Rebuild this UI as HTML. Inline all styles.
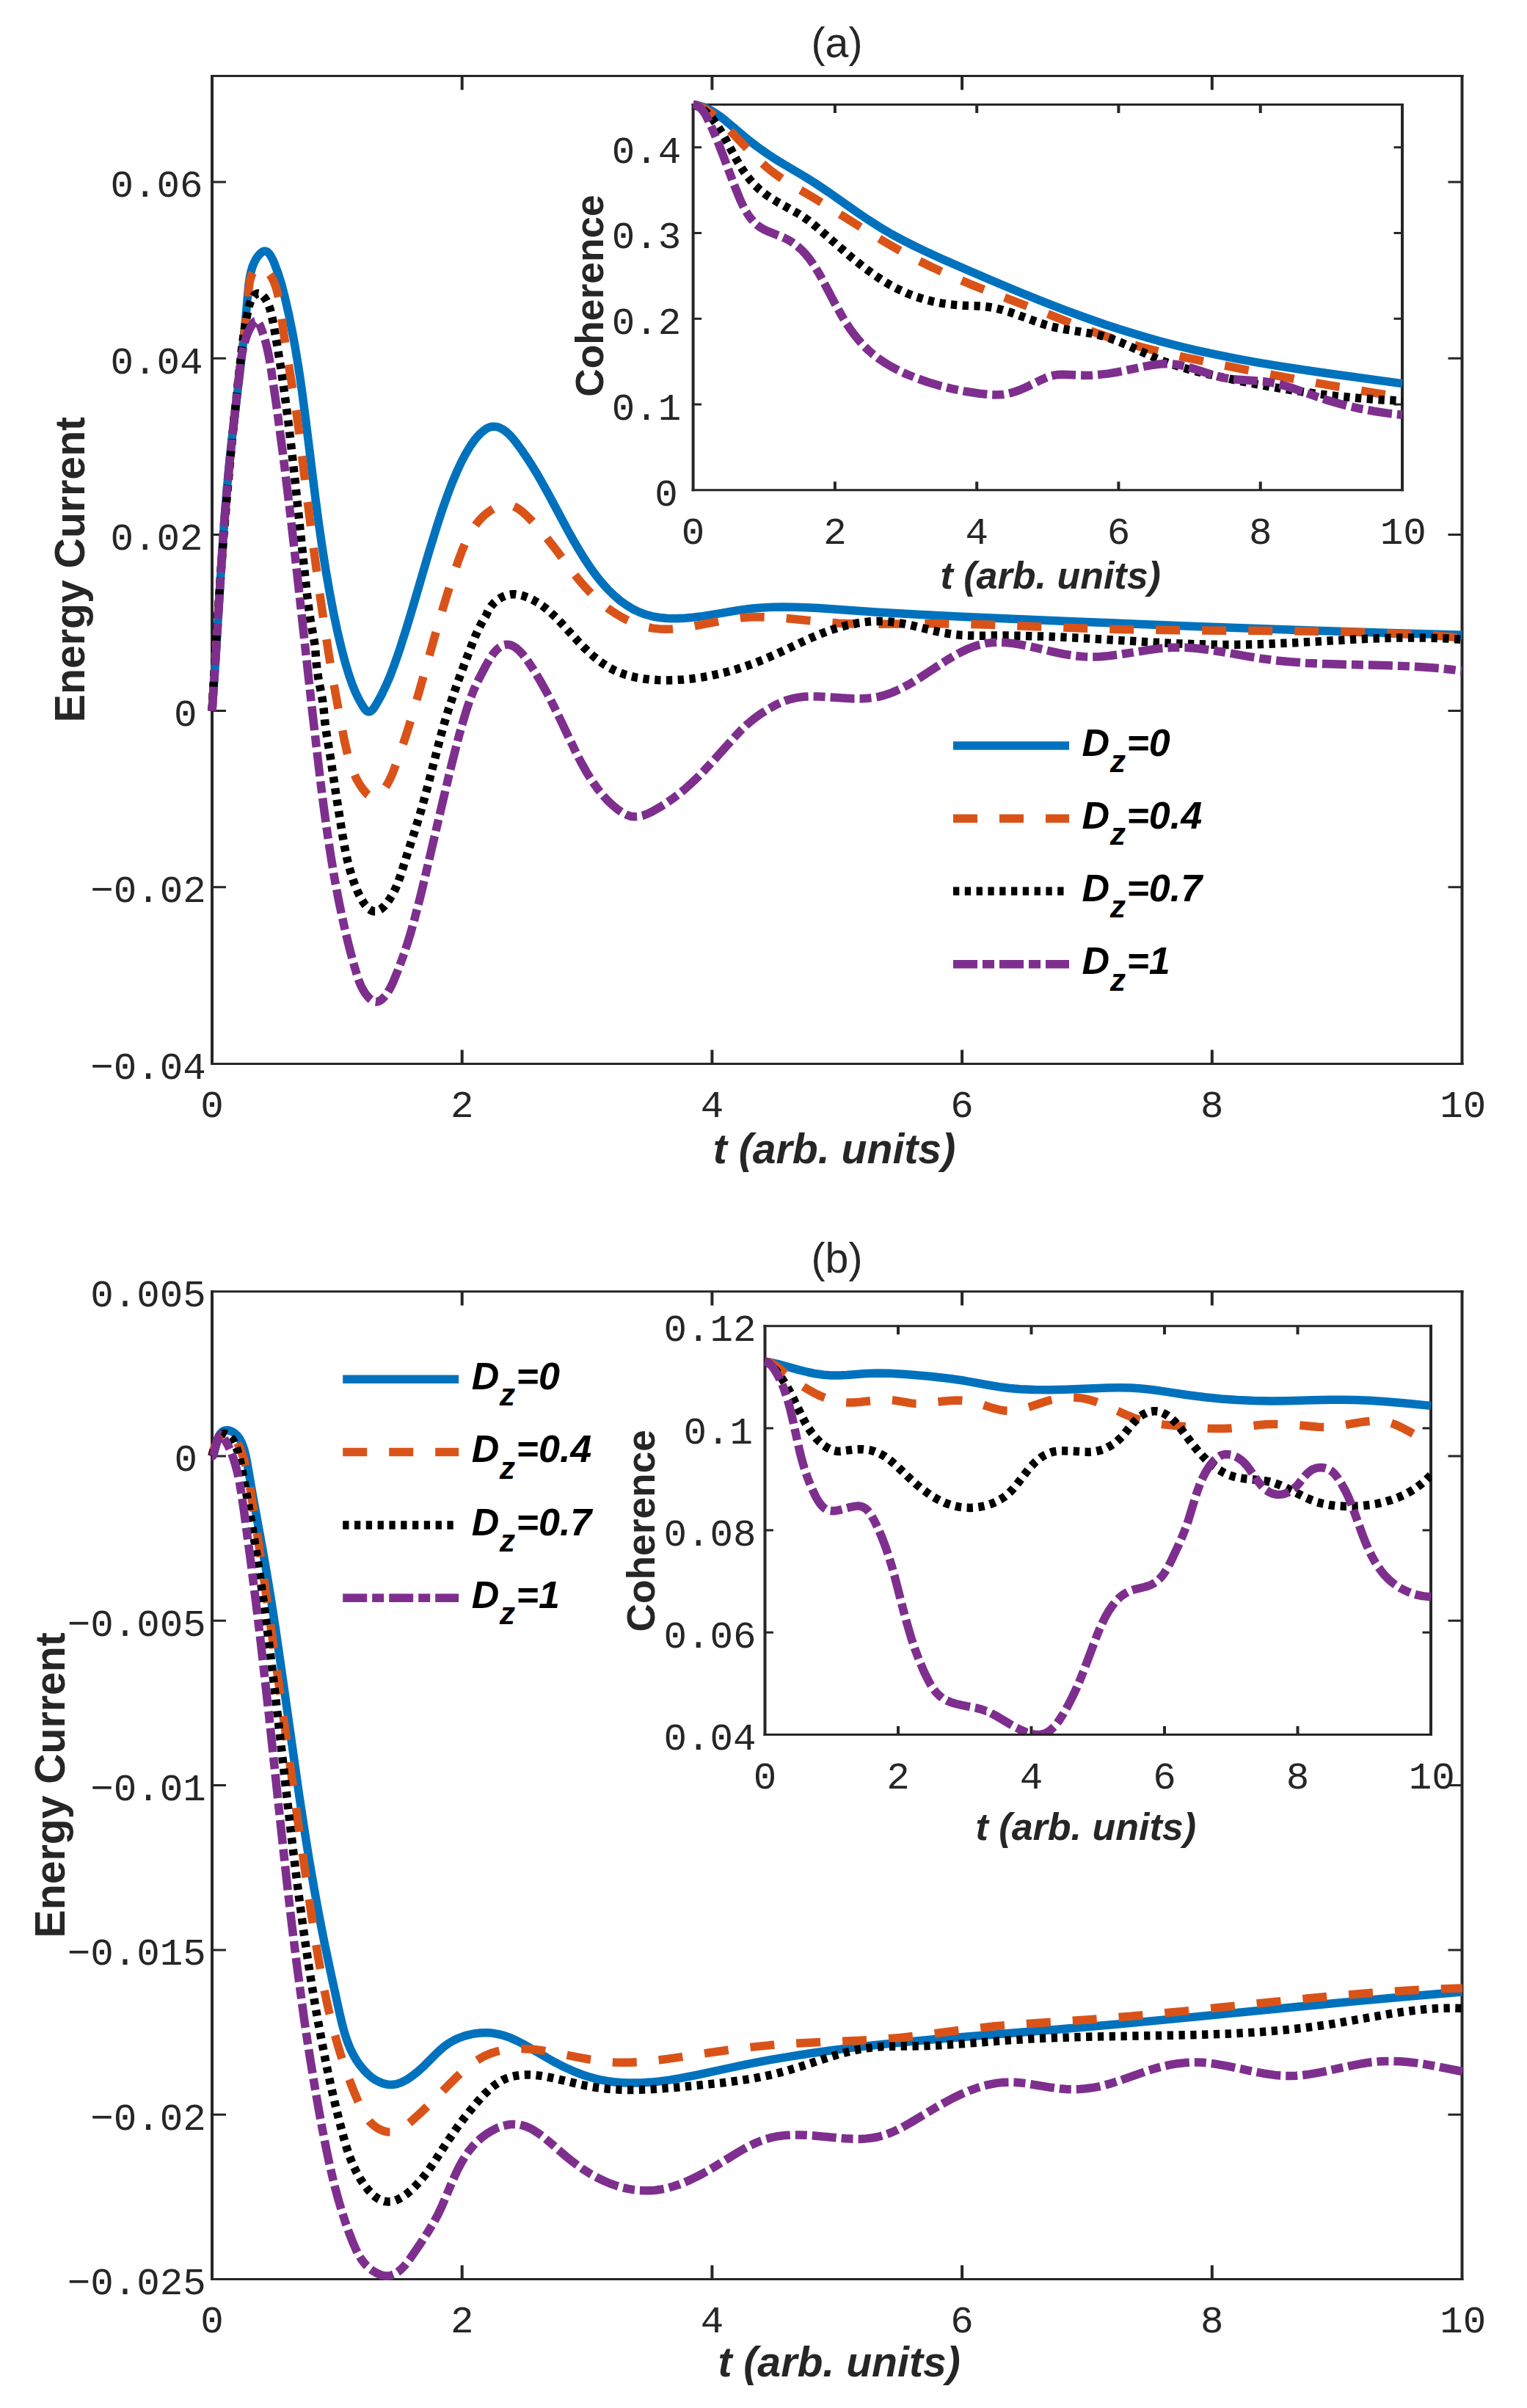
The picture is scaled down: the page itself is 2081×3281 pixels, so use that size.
<!DOCTYPE html>
<html><head><meta charset="utf-8"><title>figure</title>
<style>html,body{margin:0;padding:0;background:#fff}svg{display:block}</style>
</head><body>
<svg width="2081" height="3281" viewBox="0 0 2081 3281">
<rect width="2081" height="3281" fill="#fff"/>
<clipPath id="ca"><rect x="283" y="97.5" width="1711.0" height="1358.0"/></clipPath>
<path d="M289,102.0V1451.0M1992.5,102.0V1451.0M629.7,1449.5v-19M629.7,103.5v19M970.4,1449.5v-19M970.4,103.5v19M1311.1,1449.5v-19M1311.1,103.5v19M1651.8,1449.5v-19M1651.8,103.5v19" fill="none" stroke="#262626" stroke-width="4"/>
<path d="M287,103.5H1994.5M287,1449.5H1994.5M289,1208.8h19M1992.5,1208.8h-19M289,968.6h19M1992.5,968.6h-19M289,728.4h19M1992.5,728.4h-19M289,488.2h19M1992.5,488.2h-19M289,248.0h19M1992.5,248.0h-19" fill="none" stroke="#262626" stroke-width="3"/>
<g clip-path="url(#ca)" fill="none" stroke-width="11.5" stroke-linejoin="round">
<path d="M289.0,968.6 L293.3,906.1 L302.8,751.7 L305.9,708.4 L309.0,669.5 L312.2,634.5 L315.7,601.0 L327.4,502.8 L331.6,465.3 L334.8,434.0 L338.8,389.0 L340.2,379.1 L341.8,371.1 L343.8,364.0 L346.5,357.4 L348.2,354.1 L349.8,351.4 L351.7,348.8 L353.7,346.5 L355.6,344.7 L357.5,343.2 L359.1,342.4 L360.7,342.1 L362.8,342.4 L364.9,343.6 L367.1,345.9 L369.2,349.0 L371.4,353.1 L373.5,357.7 L378.9,372.2 L383.6,387.3 L388.0,404.2 L393.4,427.6 L398.5,452.8 L401.9,471.3 L405.1,490.4 L408.4,511.1 L411.5,532.9 L416.8,573.2 L430.1,680.7 L434.6,714.4 L439.1,745.5 L444.0,777.1 L449.2,807.1 L454.6,835.5 L459.9,860.4 L464.8,881.3 L470.0,901.1 L475.3,918.8 L480.1,932.7 L482.8,939.4 L485.8,946.2 L488.9,952.5 L492.1,958.3 L495.0,963.1 L497.4,966.5 L499.6,968.6 L501.3,969.6 L502.8,969.8 L504.2,969.5 L505.6,968.8 L507.0,967.7 L508.6,965.9 L510.2,963.8 L514.3,957.1 L520.2,946.2 L525.8,934.5 L531.4,921.6 L536.8,907.5 L544.8,884.6 L554.6,853.8 L563.4,824.5 L584.6,752.1 L596.5,713.6 L603.2,693.3 L610.0,674.1 L616.0,658.2 L621.8,644.4 L628.4,630.2 L635.0,617.6 L641.0,607.6 L646.9,599.3 L650.1,595.5 L653.5,591.8 L657.1,588.4 L660.2,585.9 L663.0,584.0 L665.9,582.6 L668.5,581.7 L671.2,581.2 L673.6,581.2 L675.9,581.4 L678.2,581.9 L680.9,582.8 L685.5,585.1 L690.2,588.5 L694.6,592.6 L699.5,598.0 L705.3,605.5 L712.3,615.2 L718.6,624.5 L724.7,633.9 L730.7,643.7 L736.9,654.4 L747.9,674.1 L774.3,723.5 L782.1,737.4 L789.3,749.6 L797.1,762.3 L804.9,773.9 L812.5,784.3 L819.9,793.5 L828.4,803.0 L836.6,811.0 L844.8,818.1 L853.5,824.4 L862.1,829.7 L870.8,833.9 L879.8,837.3 L889.2,839.8 L898.9,841.5 L909.4,842.4 L920.5,842.7 L932.8,842.2 L944.5,841.2 L957.1,839.6 L970.0,837.6 L1005.5,831.7 L1016.3,830.1 L1026.2,829.0 L1039.0,827.9 L1052.9,827.2 L1067.3,827.0 L1082.8,827.2 L1098.2,827.7 L1115.2,828.6 L1193.3,834.0 L1255.7,837.6 L1321.6,840.7 L1466.9,846.9 L1622.8,853.2 L1756.2,858.1 L1878.7,862.1 L1992.5,865.2" stroke="#0072BD"/>
<path d="M289.0,968.6 L297.9,825.7 L304.4,733.4 L307.8,689.8 L311.3,648.9 L315.0,610.1 L318.8,573.1 L323.8,528.4 L333.7,448.6 L336.4,423.2 L338.9,394.9 L340.0,385.9 L341.0,381.0 L342.2,377.0 L343.5,373.7 L345.1,370.8 L347.0,368.3 L349.3,366.2 L351.6,364.9 L354.0,364.3 L355.8,364.4 L357.8,365.1 L359.9,366.3 L362.1,368.0 L364.2,369.9 L366.4,372.4 L368.4,375.1 L370.3,378.0 L373.5,384.6 L376.1,391.8 L378.6,400.7 L380.6,410.7 L382.5,422.7 L386.3,451.2 L389.3,472.0 L400.9,542.5 L405.1,570.5 L408.1,593.4 L417.6,670.9 L425.6,733.5 L433.8,795.1 L441.2,846.8 L448.1,891.6 L455.1,933.1 L462.4,973.2 L469.7,1010.6 L473.1,1025.4 L476.4,1037.5 L480.2,1048.3 L484.4,1058.3 L487.1,1063.5 L489.8,1068.2 L492.8,1072.7 L495.8,1076.7 L498.9,1080.5 L501.3,1082.9 L503.4,1084.4 L505.7,1085.5 L507.6,1085.7 L509.6,1085.5 L511.6,1084.9 L514.0,1083.7 L516.6,1082.0 L519.0,1079.9 L521.3,1077.6 L523.5,1075.1 L527.3,1069.4 L531.0,1062.6 L534.7,1054.4 L539.1,1042.8 L544.7,1027.4 L550.2,1011.4 L555.6,994.7 L561.0,977.2 L570.9,943.3 L595.9,855.0 L603.0,830.8 L609.6,809.1 L617.1,785.9 L624.5,764.2 L629.5,750.7 L634.2,739.6 L639.3,729.3 L644.9,719.9 L650.6,712.0 L653.8,708.3 L657.2,704.8 L660.8,701.4 L664.6,698.3 L668.7,695.3 L672.6,692.9 L676.1,691.0 L679.8,689.4 L683.5,688.2 L686.7,687.6 L690.4,687.3 L694.4,687.8 L698.4,689.0 L702.7,691.0 L706.9,693.5 L711.3,696.9 L716.1,701.1 L722.2,707.0 L733.2,718.8 L744.8,732.5 L755.5,746.1 L780.0,778.8 L786.7,787.3 L793.0,794.9 L800.2,802.9 L807.3,810.4 L814.4,817.2 L821.6,823.4 L829.9,829.9 L838.3,835.6 L847.1,840.9 L855.7,845.3 L864.5,849.2 L873.0,852.2 L881.7,854.5 L890.4,856.1 L898.6,856.9 L906.9,857.2 L915.7,857.0 L925.1,856.2 L934.5,855.0 L944.4,853.4 L983.8,845.7 L1000.7,842.9 L1009.7,841.8 L1018.7,841.1 L1028.1,840.7 L1038.1,840.7 L1050.0,841.0 L1063.5,841.8 L1079.4,843.2 L1128.1,848.1 L1144.1,849.2 L1161.5,849.9 L1191.0,850.3 L1260.6,849.7 L1299.6,850.0 L1350.5,851.3 L1474.4,856.1 L1533.3,857.7 L1603.8,858.7 L1760.7,859.7 L1828.2,860.8 L1873.2,862.1 L1915.2,863.9 L1954.6,866.1 L1992.5,869.0" stroke="#D95319" stroke-dasharray="33 30"/>
<path d="M289.0,968.6 L292.5,906.8 L296.3,846.4 L300.4,788.0 L304.7,731.1 L309.3,675.7 L314.2,621.5 L319.4,568.3 L325.0,516.3 L329.4,477.3 L332.0,457.3 L334.9,438.7 L338.2,421.7 L339.5,416.4 L340.8,412.4 L342.3,408.8 L344.0,405.8 L345.8,403.2 L347.8,401.4 L350.0,400.2 L351.9,399.8 L353.8,400.1 L356.1,401.1 L358.2,402.9 L360.6,405.6 L362.7,408.8 L364.7,412.4 L366.5,416.7 L368.1,421.2 L370.2,429.4 L372.5,440.4 L377.2,467.3 L381.8,495.5 L385.6,520.6 L389.2,546.6 L392.8,574.0 L396.3,602.8 L402.3,656.8 L415.3,781.3 L418.9,813.5 L421.4,833.8 L423.6,848.1 L427.4,868.5 L428.7,876.4 L429.7,884.8 L431.2,904.2 L432.4,914.6 L434.2,926.6 L438.4,947.4 L439.9,956.4 L441.0,964.8 L443.0,985.6 L444.8,998.5 L450.6,1033.5 L457.3,1078.2 L466.7,1137.5 L469.5,1153.4 L473.1,1170.6 L477.1,1186.1 L481.9,1201.0 L484.7,1208.3 L487.3,1214.6 L489.9,1220.1 L492.7,1225.3 L495.3,1229.7 L497.8,1233.2 L500.3,1236.2 L503.0,1238.6 L505.7,1240.4 L508.2,1241.4 L510.1,1241.7 L512.1,1241.7 L514.0,1241.3 L516.3,1240.3 L518.7,1238.9 L521.0,1237.1 L523.3,1235.0 L525.5,1232.5 L528.1,1229.3 L530.5,1225.9 L535.1,1218.4 L539.3,1210.1 L543.1,1200.9 L546.2,1191.7 L553.4,1168.7 L566.0,1129.9 L574.0,1103.8 L582.0,1074.9 L600.1,1004.9 L605.3,986.1 L610.4,969.4 L618.8,943.9 L627.3,919.9 L640.6,884.6 L647.7,866.9 L651.7,858.1 L655.5,850.4 L658.8,844.3 L662.8,838.0 L664.2,834.4 L665.9,830.9 L667.5,828.3 L669.4,825.7 L671.8,822.9 L674.2,820.6 L677.1,818.1 L679.9,816.1 L682.7,814.4 L685.7,812.9 L688.9,811.6 L692.1,810.7 L697.2,809.8 L702.0,809.7 L707.4,810.4 L713.3,811.9 L719.6,814.2 L726.1,817.3 L732.7,821.0 L738.9,825.2 L743.6,828.8 L748.2,832.5 L757.5,841.2 L765.7,849.8 L789.2,875.3 L796.7,883.0 L803.4,889.3 L810.6,895.7 L817.3,901.0 L824.2,905.9 L830.9,910.0 L837.5,913.4 L844.6,916.5 L852.0,919.2 L860.0,921.5 L868.2,923.4 L876.9,924.8 L886.4,925.9 L895.8,926.6 L907.4,926.9 L919.4,926.6 L931.4,925.9 L943.4,924.7 L955.3,923.1 L967.6,920.9 L979.8,918.2 L992.5,915.0 L1004.1,911.7 L1016.0,907.9 L1027.8,903.7 L1039.5,899.1 L1058.8,890.8 L1092.7,874.9 L1105.8,869.0 L1119.1,863.4 L1131.7,858.7 L1139.3,856.2 L1147.0,853.9 L1154.2,852.0 L1161.6,850.4 L1168.9,849.0 L1175.8,848.0 L1183.2,847.1 L1190.2,846.6 L1198.6,846.4 L1207.1,846.6 L1215.0,847.3 L1223.4,848.4 L1231.3,849.8 L1240.2,851.6 L1271.1,859.1 L1284.0,861.9 L1296.8,864.0 L1310.2,865.4 L1320.1,865.9 L1331.1,866.2 L1368.1,866.0 L1389.5,866.2 L1428.5,867.3 L1474.5,869.5 L1579.4,875.6 L1605.4,876.9 L1628.8,877.7 L1651.8,878.3 L1673.3,878.5 L1693.8,878.3 L1715.7,877.8 L1757.2,876.1 L1855.5,870.7 L1881.0,869.7 L1904.4,869.1 L1928.4,868.9 L1950.9,869.2 L1972.3,870.1 L1992.5,871.4" stroke="#000000" stroke-dasharray="8.3 7.5"/>
<path d="M289.0,968.6 L293.3,905.6 L302.2,760.1 L304.6,724.6 L307.1,692.8 L310.1,658.1 L313.5,623.3 L326.3,508.0 L328.2,493.0 L330.0,481.2 L332.2,470.9 L334.8,461.8 L336.5,456.8 L338.3,452.4 L340.3,448.2 L342.3,444.5 L344.2,441.4 L346.0,439.1 L347.5,437.7 L349.0,437.3 L350.4,437.8 L351.8,439.2 L353.3,441.6 L355.0,445.1 L357.4,451.5 L359.7,458.4 L361.8,465.3 L363.7,472.8 L366.3,484.7 L368.8,498.6 L376.6,551.3 L386.3,623.9 L396.1,704.3 L404.9,781.8 L425.4,967.5 L436.4,1061.9 L441.2,1099.6 L445.8,1132.9 L450.3,1163.0 L455.0,1191.7 L458.5,1210.8 L462.1,1229.5 L465.9,1247.5 L469.8,1265.1 L473.8,1282.1 L478.1,1299.0 L482.7,1315.8 L487.0,1330.2 L489.3,1336.8 L491.8,1342.9 L494.4,1348.0 L497.4,1353.0 L500.7,1357.3 L503.9,1360.7 L507.2,1363.4 L510.3,1364.8 L512.6,1365.1 L514.9,1364.8 L517.1,1363.9 L519.7,1362.2 L522.4,1359.7 L525.3,1356.4 L528.2,1352.4 L530.7,1348.2 L533.1,1343.7 L535.7,1338.2 L542.5,1321.6 L549.2,1303.5 L555.6,1284.4 L559.8,1270.5 L563.9,1256.1 L572.5,1223.3 L578.5,1198.2 L605.7,1082.3 L614.5,1045.7 L620.7,1021.0 L626.0,1000.7 L631.4,982.0 L636.6,964.9 L641.3,951.2 L645.7,940.0 L650.8,928.8 L662.1,907.0 L667.9,896.9 L672.6,890.1 L675.0,887.4 L677.4,884.8 L680.0,882.6 L682.3,881.0 L684.6,879.7 L686.8,878.8 L688.7,878.4 L691.0,878.2 L692.9,878.3 L695.1,878.7 L697.4,879.5 L699.6,880.5 L703.9,883.3 L708.4,887.4 L713.2,892.7 L718.1,899.1 L723.7,907.3 L730.2,917.5 L736.7,928.5 L743.0,939.7 L749.2,951.2 L759.7,972.2 L782.8,1020.7 L788.3,1031.9 L793.5,1041.7 L798.7,1050.9 L804.0,1059.6 L809.3,1067.7 L814.7,1075.2 L821.1,1083.1 L828.0,1090.7 L835.1,1097.4 L842.3,1103.3 L848.6,1107.6 L854.3,1110.4 L859.7,1112.2 L862.4,1112.6 L865.2,1112.8 L870.4,1112.5 L875.6,1111.3 L881.8,1109.1 L888.4,1106.0 L897.6,1100.8 L907.1,1094.9 L916.2,1088.6 L925.2,1081.8 L932.7,1075.7 L940.2,1069.0 L948.0,1061.8 L955.8,1054.0 L971.2,1037.6 L1002.2,1003.0 L1009.8,995.0 L1016.9,988.2 L1026.1,980.3 L1035.6,973.3 L1047.2,966.0 L1058.3,959.9 L1067.3,955.9 L1071.8,954.2 L1076.5,952.8 L1081.2,951.6 L1085.9,950.6 L1095.6,949.3 L1104.5,948.9 L1115.0,949.0 L1125.1,949.5 L1155.1,951.6 L1164.2,951.9 L1172.2,951.9 L1181.2,951.5 L1189.5,950.7 L1197.2,949.3 L1204.8,947.4 L1212.8,944.8 L1220.5,941.6 L1229.1,937.6 L1238.0,932.9 L1245.5,928.5 L1254.2,923.1 L1281.3,905.3 L1291.1,899.0 L1300.6,893.4 L1309.3,888.7 L1318.5,884.3 L1326.9,881.0 L1335.0,878.5 L1343.2,876.6 L1351.5,875.6 L1360.4,875.2 L1370.0,875.5 L1380.6,876.6 L1389.9,878.1 L1400.3,880.1 L1436.3,888.4 L1450.5,891.4 L1464.6,893.6 L1477.1,894.8 L1484.1,895.1 L1491.6,895.0 L1499.0,894.7 L1506.9,894.1 L1525.2,891.9 L1563.5,885.9 L1580.1,883.6 L1589.5,882.8 L1597.8,882.3 L1606.2,882.2 L1614.6,882.3 L1629.4,883.3 L1645.8,885.2 L1664.2,888.0 L1702.1,894.6 L1718.6,897.2 L1738.0,899.8 L1758.4,901.8 L1780.9,903.4 L1805.8,904.6 L1830.2,905.3 L1892.5,906.7 L1926.4,908.1 L1944.4,909.2 L1961.4,910.6 L1977.4,912.3 L1992.5,914.3" stroke="#7E2F8E" stroke-dasharray="33 7 16 7"/>
</g>
<clipPath id="cia"><rect x="938.6" y="136.4" width="973.9" height="537.4"/></clipPath>
<path d="M944.6,140.9V669.3M1911,140.9V669.3M1137.9,667.8v-11.5M1137.9,142.4v11.5M1331.2,667.8v-11.5M1331.2,142.4v11.5M1524.4,667.8v-11.5M1524.4,142.4v11.5M1717.7,667.8v-11.5M1717.7,142.4v11.5" fill="none" stroke="#262626" stroke-width="4"/>
<path d="M942.6,142.4H1913M942.6,667.8H1913M944.6,551.0h11.5M1911,551.0h-11.5M944.6,434.3h11.5M1911,434.3h-11.5M944.6,317.5h11.5M1911,317.5h-11.5M944.6,200.8h11.5M1911,200.8h-11.5" fill="none" stroke="#262626" stroke-width="3"/>
<g clip-path="url(#cia)" fill="none" stroke-width="11.5" stroke-linejoin="round">
<path d="M944.6,142.4 L948.6,143.0 L952.5,143.9 L960.0,146.3 L967.5,149.7 L975.4,154.4 L981.4,158.6 L988.1,163.8 L1009.5,182.0 L1021.5,191.9 L1032.7,200.4 L1044.1,208.5 L1052.8,214.3 L1062.0,220.1 L1096.2,240.4 L1110.6,249.4 L1129.3,261.9 L1166.7,288.2 L1182.4,298.9 L1199.3,309.7 L1215.2,319.1 L1229.6,326.9 L1245.6,335.0 L1263.2,343.4 L1284.1,352.9 L1324.9,370.8 L1361.2,386.3 L1393.6,399.8 L1423.7,411.9 L1452.2,422.8 L1479.8,433.0 L1506.2,442.2 L1531.9,450.5 L1556.7,458.1 L1581.1,465.0 L1605.3,471.3 L1630.6,477.3 L1656.4,482.9 L1683.4,488.3 L1712.0,493.6 L1742.1,498.6 L1772.3,503.3 L1806.0,508.3 L1911.0,522.6" stroke="#0072BD"/>
<path d="M944.6,142.4 L948.5,143.4 L952.3,144.6 L955.9,146.0 L959.4,147.7 L963.2,149.8 L966.9,152.2 L974.3,157.8 L980.2,163.0 L987.3,169.9 L1020.2,204.5 L1028.0,212.4 L1035.2,219.3 L1043.3,226.6 L1051.0,232.9 L1059.4,239.1 L1068.5,245.2 L1080.7,252.9 L1106.2,267.9 L1122.0,277.6 L1192.0,321.3 L1209.6,331.9 L1225.6,341.1 L1247.1,352.7 L1269.5,363.8 L1294.0,375.1 L1320.2,386.3 L1355.0,400.1 L1428.4,427.9 L1474.8,446.4 L1493.4,453.5 L1508.5,458.8 L1524.6,464.1 L1541.4,469.0 L1558.7,473.8 L1586.4,480.6 L1618.2,487.7 L1664.8,497.3 L1716.8,507.5 L1765.9,516.7 L1814.6,525.4 L1862.9,533.6 L1911.0,541.3" stroke="#D95319" stroke-dasharray="33 30"/>
<path d="M944.6,142.4 L948.2,143.8 L952.1,145.7 L955.4,147.6 L958.9,150.1 L962.3,152.8 L965.8,156.2 L969.1,159.7 L972.2,163.6 L977.8,171.3 L983.6,180.7 L989.1,190.4 L1003.5,217.1 L1008.0,224.9 L1012.3,231.7 L1017.8,239.4 L1023.4,246.3 L1029.4,252.9 L1035.5,258.7 L1042.9,264.6 L1051.1,270.2 L1060.1,275.6 L1086.9,290.5 L1094.9,295.6 L1101.7,300.4 L1107.9,305.2 L1114.7,310.9 L1147.1,339.2 L1162.4,352.3 L1177.0,364.0 L1190.3,373.8 L1202.0,381.6 L1213.5,388.5 L1224.9,394.5 L1236.2,399.7 L1247.3,403.9 L1258.7,407.6 L1270.8,410.7 L1283.1,413.1 L1294.0,414.7 L1305.0,415.7 L1314.0,416.3 L1332.4,416.9 L1340.4,417.4 L1348.7,418.5 L1356.9,420.0 L1366.0,422.3 L1376.0,425.3 L1386.8,429.0 L1415.9,439.6 L1425.5,442.7 L1433.6,445.0 L1441.4,446.8 L1450.2,448.5 L1487.3,454.4 L1495.0,456.0 L1501.8,457.6 L1513.6,461.3 L1526.2,466.0 L1539.0,471.5 L1574.1,487.6 L1584.8,492.0 L1595.1,495.7 L1608.9,500.1 L1624.3,504.4 L1641.8,508.7 L1665.8,514.1 L1697.6,520.7 L1729.0,526.5 L1760.1,531.6 L1790.7,536.0 L1821.0,539.6 L1851.3,542.5 L1881.2,544.7 L1911.0,546.2" stroke="#000000" stroke-dasharray="8.3 7.5"/>
<path d="M944.6,142.4 L947.4,143.0 L949.9,144.0 L952.6,145.7 L955.0,147.7 L957.2,150.1 L959.6,153.2 L961.7,156.6 L963.8,160.7 L971.0,176.1 L978.2,193.3 L984.7,209.8 L1000.0,250.6 L1008.6,271.9 L1012.3,279.8 L1015.8,286.6 L1019.5,292.6 L1023.3,297.8 L1026.5,301.5 L1029.9,304.9 L1033.3,307.7 L1037.0,310.2 L1041.3,312.7 L1045.9,314.9 L1066.0,323.0 L1070.6,325.0 L1074.6,327.1 L1079.6,330.2 L1084.3,333.5 L1088.8,337.2 L1093.3,341.4 L1097.9,346.3 L1102.5,351.9 L1106.8,357.8 L1111.1,364.4 L1115.3,371.2 L1119.5,378.6 L1138.0,413.9 L1148.0,431.6 L1153.5,440.7 L1158.8,448.6 L1164.4,456.2 L1170.0,463.1 L1176.5,470.5 L1183.2,477.0 L1190.2,483.1 L1197.7,488.8 L1206.3,494.6 L1215.3,499.9 L1225.1,505.0 L1235.1,509.7 L1249.6,515.5 L1264.8,520.8 L1280.6,525.5 L1297.1,529.6 L1315.7,533.3 L1335.0,536.2 L1348.8,537.7 L1354.8,537.9 L1360.7,537.8 L1367.0,537.4 L1372.9,536.5 L1378.6,535.1 L1384.8,533.2 L1391.0,530.8 L1397.6,528.0 L1417.9,518.1 L1424.3,515.2 L1431.3,512.6 L1437.5,511.1 L1442.4,510.5 L1447.9,510.3 L1453.9,510.4 L1469.5,511.2 L1477.5,511.4 L1488.0,511.2 L1498.3,510.4 L1510.1,509.1 L1522.8,507.0 L1534.0,504.8 L1559.0,499.4 L1571.8,497.2 L1578.7,496.3 L1585.5,495.8 L1591.9,495.7 L1597.7,496.0 L1602.1,496.5 L1607.0,497.2 L1616.7,499.4 L1626.8,502.4 L1653.0,511.0 L1660.9,513.2 L1668.3,514.8 L1676.2,516.1 L1684.6,517.0 L1712.5,518.9 L1721.9,519.7 L1730.7,520.9 L1739.0,522.5 L1749.1,525.1 L1760.1,528.4 L1794.8,540.6 L1808.1,545.0 L1821.5,549.0 L1835.0,552.6 L1853.5,556.8 L1872.1,560.2 L1891.4,563.1 L1911.0,565.2" stroke="#7E2F8E" stroke-dasharray="33 7 16 7"/>
</g>
<clipPath id="cb"><rect x="283" y="1753.7" width="1711.0" height="1357.7"/></clipPath>
<path d="M289,1758.2V3106.9M1992.5,1758.2V3106.9M629.7,3105.4v-19M629.7,1759.7v19M970.4,3105.4v-19M970.4,1759.7v19M1311.1,3105.4v-19M1311.1,1759.7v19M1651.8,3105.4v-19M1651.8,1759.7v19" fill="none" stroke="#262626" stroke-width="4"/>
<path d="M287,1759.7H1994.5M287,3105.4H1994.5M289,1984.0h19M1992.5,1984.0h-19M289,2208.3h19M1992.5,2208.3h-19M289,2432.6h19M1992.5,2432.6h-19M289,2656.9h19M1992.5,2656.9h-19M289,2881.2h19M1992.5,2881.2h-19" fill="none" stroke="#262626" stroke-width="3"/>
<g clip-path="url(#cb)" fill="none" stroke-width="11.5" stroke-linejoin="round">
<path d="M289.0,1984.0 L290.4,1981.9 L291.6,1978.9 L296.2,1962.7 L297.6,1958.7 L299.0,1955.7 L300.5,1953.2 L302.7,1951.0 L305.0,1949.6 L307.5,1948.9 L309.4,1948.8 L311.3,1949.0 L313.2,1949.4 L315.4,1950.2 L317.6,1951.3 L319.6,1952.7 L323.2,1956.0 L326.3,1960.0 L328.9,1964.7 L331.2,1970.3 L333.4,1977.4 L335.0,1984.0 L336.5,1991.4 L344.2,2036.1 L358.3,2113.6 L363.9,2146.1 L369.6,2180.8 L375.4,2218.6 L381.5,2260.5 L407.7,2446.1 L414.7,2492.2 L421.3,2533.8 L428.1,2573.2 L434.8,2609.9 L441.8,2645.5 L450.4,2686.4 L462.6,2742.3 L466.7,2759.6 L469.2,2768.8 L471.8,2777.0 L474.5,2784.5 L477.4,2791.5 L481.4,2799.6 L485.7,2807.0 L490.3,2813.7 L495.4,2820.0 L500.7,2825.5 L506.3,2830.4 L511.9,2834.2 L517.8,2837.2 L521.6,2838.7 L525.6,2839.7 L529.6,2840.3 L533.6,2840.4 L537.8,2840.1 L541.4,2839.3 L545.6,2837.9 L549.8,2836.0 L554.4,2833.6 L558.9,2830.7 L563.8,2827.1 L568.6,2823.3 L577.9,2814.9 L593.2,2799.5 L599.1,2793.8 L605.6,2788.2 L612.3,2783.6 L616.9,2780.9 L621.8,2778.4 L626.8,2776.3 L632.1,2774.4 L637.4,2772.9 L642.9,2771.6 L648.4,2770.7 L654.0,2770.0 L659.5,2769.7 L664.5,2769.8 L670.0,2770.1 L674.8,2770.8 L680.0,2771.8 L685.2,2773.1 L690.2,2774.7 L695.7,2776.7 L704.1,2780.5 L712.9,2785.0 L721.6,2789.9 L747.2,2804.9 L756.7,2810.2 L765.4,2814.7 L774.7,2819.1 L784.1,2823.2 L793.1,2826.7 L801.7,2829.5 L809.8,2831.8 L818.4,2833.8 L827.1,2835.4 L836.2,2836.7 L845.4,2837.5 L854.6,2838.0 L864.3,2838.1 L874.0,2837.9 L886.2,2837.1 L899.0,2835.9 L912.2,2834.1 L926.9,2831.7 L951.6,2826.9 L999.5,2816.5 L1021.8,2811.9 L1049.5,2806.7 L1078.2,2801.8 L1104.5,2797.7 L1131.3,2794.0 L1159.0,2790.4 L1188.3,2787.0 L1231.0,2782.6 L1278.7,2778.2 L1324.4,2774.4 L1440.4,2765.3 L1517.6,2758.6 L1604.3,2750.4 L1776.7,2733.5 L1848.9,2726.6 L1924.6,2719.7 L1992.5,2714.1" stroke="#0072BD"/>
<path d="M289.0,1984.0 L290.4,1977.3 L292.7,1970.3 L295.5,1964.0 L298.7,1958.5 L302.0,1954.5 L303.5,1953.2 L305.0,1952.1 L306.9,1951.3 L308.4,1950.9 L309.9,1950.9 L311.4,1951.2 L312.9,1951.9 L314.3,1952.8 L317.4,1955.7 L320.5,1960.1 L323.4,1965.3 L326.5,1972.1 L329.8,1980.6 L332.6,1989.0 L335.2,1998.5 L338.3,2012.3 L341.2,2029.1 L349.8,2084.9 L358.9,2146.2 L373.8,2250.1 L407.4,2491.8 L424.2,2607.1 L429.0,2638.8 L433.4,2665.4 L437.7,2689.5 L442.0,2711.6 L446.1,2731.1 L450.4,2749.6 L455.0,2767.4 L459.8,2784.8 L464.9,2801.5 L470.2,2817.7 L475.9,2833.3 L481.9,2848.7 L487.4,2861.8 L492.2,2872.4 L495.9,2879.6 L499.7,2885.5 L503.9,2890.9 L508.6,2895.4 L513.9,2899.3 L516.9,2901.0 L519.6,2902.3 L523.3,2903.7 L527.1,2904.6 L530.9,2905.0 L534.6,2905.0 L537.8,2904.4 L541.4,2903.3 L544.9,2901.8 L548.7,2899.6 L553.3,2896.4 L558.1,2892.5 L574.9,2877.2 L590.4,2862.3 L612.7,2839.5 L622.2,2830.1 L632.5,2820.7 L641.9,2813.1 L647.7,2808.9 L653.7,2805.1 L659.7,2801.8 L665.4,2799.2 L671.2,2797.0 L677.6,2795.1 L684.0,2793.6 L691.0,2792.4 L700.4,2791.6 L710.5,2791.4 L721.1,2791.9 L732.4,2793.0 L742.3,2794.4 L753.8,2796.4 L790.1,2803.6 L803.3,2806.0 L815.3,2807.9 L826.4,2809.2 L836.8,2810.0 L847.2,2810.3 L858.1,2810.2 L869.9,2809.7 L884.0,2808.5 L899.2,2806.8 L916.8,2804.4 L967.5,2796.7 L993.4,2793.1 L1022.8,2789.4 L1049.9,2786.6 L1067.9,2785.2 L1087.9,2783.9 L1172.6,2780.3 L1192.5,2779.2 L1210.4,2777.9 L1226.8,2776.4 L1245.2,2774.4 L1319.7,2764.8 L1352.6,2761.1 L1371.5,2759.5 L1392.5,2757.9 L1485.2,2751.8 L1541.5,2747.2 L1610.7,2740.6 L1761.8,2724.9 L1823.6,2719.1 L1870.4,2715.3 L1913.3,2712.4 L1954.2,2710.2 L1992.9,2708.9" stroke="#D95319" stroke-dasharray="33 30"/>
<path d="M289.0,1984.0 L291.3,1976.2 L293.5,1969.6 L295.6,1964.2 L297.8,1959.9 L299.8,1956.7 L302.1,1954.4 L304.2,1953.3 L306.3,1953.2 L307.6,1953.5 L309.2,1954.2 L312.4,1956.5 L315.6,1959.8 L318.3,1963.8 L320.6,1968.4 L322.8,1974.0 L324.8,1980.4 L326.8,1988.3 L329.3,2000.2 L334.4,2027.0 L342.8,2074.4 L350.3,2120.9 L357.5,2169.9 L364.1,2219.2 L371.0,2274.3 L377.8,2332.1 L396.2,2494.0 L402.3,2544.3 L408.1,2589.5 L415.2,2641.2 L422.4,2689.2 L429.9,2734.6 L437.8,2777.9 L442.6,2802.4 L447.4,2825.9 L452.5,2848.7 L457.6,2870.5 L463.2,2893.1 L468.8,2914.1 L472.6,2927.0 L476.4,2938.3 L480.8,2949.2 L485.5,2959.0 L490.7,2968.4 L496.3,2976.9 L501.9,2984.0 L507.5,2989.9 L510.4,2992.4 L513.1,2994.4 L516.2,2996.3 L518.9,2997.7 L523.7,2999.3 L528.3,2999.9 L532.9,2999.7 L538.0,2998.5 L543.5,2996.2 L549.0,2993.0 L554.9,2988.8 L561.0,2983.6 L566.0,2978.6 L571.2,2973.1 L576.4,2967.0 L581.6,2960.4 L590.7,2947.5 L610.8,2916.5 L623.2,2898.5 L631.1,2887.9 L639.2,2877.6 L648.0,2867.0 L655.2,2858.7 L661.7,2852.0 L668.0,2846.2 L673.6,2841.5 L679.5,2837.4 L685.0,2834.3 L691.1,2831.6 L697.3,2829.6 L703.7,2828.2 L711.5,2827.2 L719.5,2826.9 L728.1,2827.3 L737.2,2828.4 L745.5,2829.7 L754.9,2831.7 L786.9,2839.3 L800.0,2842.2 L814.0,2844.5 L828.4,2846.2 L844.3,2847.2 L861.1,2847.5 L879.3,2847.1 L899.6,2845.9 L917.4,2844.5 L945.6,2841.9 L983.0,2838.1 L1010.8,2834.4 L1023.7,2832.4 L1035.6,2830.2 L1055.2,2826.0 L1073.6,2821.1 L1090.4,2816.0 L1130.4,2802.9 L1141.4,2799.5 L1151.0,2796.9 L1161.2,2794.4 L1170.9,2792.3 L1180.2,2790.8 L1189.5,2789.6 L1199.9,2788.8 L1211.4,2788.3 L1256.2,2787.8 L1280.7,2786.8 L1306.7,2785.1 L1376.3,2779.7 L1403.2,2778.1 L1431.6,2776.8 L1459.5,2775.8 L1490.5,2775.0 L1598.0,2773.2 L1636.9,2772.4 L1676.9,2770.9 L1712.7,2769.0 L1734.6,2767.3 L1755.5,2765.4 L1775.8,2763.2 L1795.2,2760.7 L1810.0,2758.6 L1825.3,2756.1 L1894.5,2743.9 L1912.3,2741.2 L1928.1,2739.2 L1945.6,2737.4 L1962.0,2736.4 L1977.5,2736.1 L1992.9,2736.4" stroke="#000000" stroke-dasharray="8.3 7.5"/>
<path d="M289.0,1984.0 L289.5,1984.1 L290.1,1983.6 L291.3,1980.7 L295.8,1963.2 L296.9,1959.8 L297.8,1957.6 L299.0,1955.6 L299.7,1955.0 L300.2,1954.8 L300.7,1954.9 L301.4,1955.2 L302.6,1956.4 L306.8,1962.4 L310.9,1969.7 L314.5,1977.6 L317.9,1986.5 L320.9,1996.2 L323.7,2006.9 L326.1,2018.5 L328.5,2032.0 L332.5,2058.9 L341.1,2122.9 L348.2,2178.9 L355.2,2236.5 L366.5,2336.7 L384.0,2500.5 L390.8,2562.7 L398.1,2625.9 L405.3,2683.1 L414.3,2749.6 L418.9,2780.8 L423.7,2811.4 L428.6,2841.0 L433.6,2870.0 L438.9,2899.0 L444.0,2924.9 L448.2,2944.9 L452.4,2963.3 L456.7,2980.8 L461.1,2997.1 L465.8,3012.9 L470.6,3027.7 L475.8,3042.4 L481.1,3056.0 L484.7,3064.3 L488.1,3071.1 L491.7,3077.1 L495.5,3082.4 L499.5,3086.9 L504.1,3091.1 L509.2,3094.8 L514.3,3097.7 L519.5,3099.8 L524.2,3100.9 L528.7,3101.1 L533.0,3100.3 L537.5,3098.6 L542.2,3095.7 L546.6,3092.0 L551.2,3087.3 L554.8,3082.8 L559.0,3077.2 L573.1,3056.7 L583.7,3040.4 L591.6,3027.1 L596.9,3017.3 L601.5,3007.5 L605.9,2997.4 L616.9,2971.1 L623.3,2957.2 L627.0,2950.0 L630.7,2943.4 L634.4,2937.4 L638.1,2932.0 L643.8,2924.9 L649.6,2918.7 L656.0,2912.8 L662.6,2907.9 L669.9,2903.3 L677.0,2899.7 L684.4,2897.0 L691.3,2895.3 L695.9,2894.6 L700.5,2894.4 L705.0,2894.6 L709.0,2895.2 L713.3,2896.3 L717.7,2897.8 L722.3,2899.8 L726.9,2902.3 L734.4,2907.1 L742.1,2913.0 L749.8,2919.4 L771.4,2938.2 L779.3,2944.5 L786.8,2950.2 L795.8,2956.4 L804.9,2962.1 L814.1,2967.2 L823.0,2971.5 L831.1,2975.0 L839.3,2977.9 L847.5,2980.4 L855.3,2982.2 L863.2,2983.6 L871.1,2984.5 L879.1,2984.8 L887.1,2984.7 L893.3,2984.2 L899.5,2983.3 L905.2,2982.3 L911.4,2980.8 L917.7,2979.0 L924.4,2976.8 L931.0,2974.3 L937.7,2971.5 L950.4,2965.4 L964.2,2958.0 L976.3,2950.8 L1004.9,2933.1 L1012.6,2928.6 L1019.9,2924.7 L1028.2,2920.6 L1036.2,2917.3 L1043.8,2914.6 L1051.7,2912.4 L1060.2,2910.7 L1069.0,2909.6 L1078.8,2909.0 L1089.4,2909.0 L1099.0,2909.3 L1109.3,2910.0 L1151.6,2913.8 L1161.7,2914.3 L1171.1,2914.4 L1180.4,2913.9 L1188.6,2913.0 L1196.7,2911.5 L1204.1,2909.5 L1210.1,2907.4 L1216.4,2904.9 L1222.7,2902.0 L1229.8,2898.4 L1241.7,2891.7 L1268.9,2875.4 L1282.6,2867.4 L1296.0,2860.2 L1308.6,2854.0 L1321.8,2848.3 L1334.3,2843.9 L1340.4,2842.1 L1346.5,2840.6 L1357.9,2838.4 L1364.7,2837.6 L1371.0,2837.2 L1377.4,2837.1 L1383.8,2837.3 L1391.3,2837.9 L1399.4,2838.9 L1432.4,2844.3 L1447.1,2846.1 L1455.1,2846.7 L1463.5,2846.8 L1471.4,2846.5 L1479.8,2845.8 L1487.6,2844.8 L1495.8,2843.4 L1503.5,2841.6 L1511.6,2839.4 L1526.8,2834.6 L1563.9,2821.5 L1574.0,2818.4 L1583.7,2815.8 L1594.5,2813.4 L1604.8,2811.7 L1614.7,2810.6 L1624.5,2810.0 L1631.9,2810.0 L1639.4,2810.3 L1647.3,2811.0 L1655.7,2812.1 L1673.0,2815.1 L1707.6,2822.4 L1722.4,2825.2 L1737.7,2827.4 L1744.6,2828.0 L1751.0,2828.4 L1758.4,2828.5 L1766.3,2828.2 L1774.7,2827.5 L1783.5,2826.4 L1792.4,2824.9 L1802.2,2823.1 L1840.2,2814.8 L1856.5,2811.7 L1865.4,2810.3 L1873.3,2809.4 L1880.8,2808.7 L1888.7,2808.4 L1898.7,2808.4 L1909.1,2808.8 L1920.0,2809.8 L1931.5,2811.1 L1942.9,2812.8 L1955.7,2815.1 L1992.9,2822.5" stroke="#7E2F8E" stroke-dasharray="33 7 16 7"/>
</g>
<clipPath id="cib"><rect x="1036.5" y="1800.7" width="915.0" height="561.3999999999999"/></clipPath>
<path d="M1042.5,1805.2V2365.1M1950,1805.2V2365.1M1224.0,2363.6v-11.5M1224.0,1806.7v11.5M1405.5,2363.6v-11.5M1405.5,1806.7v11.5M1587.0,2363.6v-11.5M1587.0,1806.7v11.5M1768.5,2363.6v-11.5M1768.5,1806.7v11.5" fill="none" stroke="#262626" stroke-width="4"/>
<path d="M1040.5,1806.7H1952M1040.5,2363.6H1952M1042.5,1945.9h11.5M1950,1945.9h-11.5M1042.5,2085.1h11.5M1950,2085.1h-11.5M1042.5,2224.3h11.5M1950,2224.3h-11.5" fill="none" stroke="#262626" stroke-width="3"/>
<g clip-path="url(#cib)" fill="none" stroke-width="11.5" stroke-linejoin="round">
<path d="M1042.5,1855.2 L1050.4,1856.4 L1059.1,1858.3 L1088.1,1866.4 L1100.6,1869.5 L1111.8,1871.8 L1122.5,1873.3 L1132.9,1874.1 L1143.7,1874.0 L1154.2,1873.5 L1180.2,1871.4 L1195.2,1870.9 L1212.7,1871.3 L1234.2,1872.5 L1267.0,1875.3 L1293.3,1878.2 L1314.6,1881.3 L1348.5,1887.5 L1361.9,1889.7 L1375.7,1891.5 L1390.6,1892.8 L1409.6,1893.6 L1430.1,1893.7 L1452.6,1893.2 L1509.1,1890.9 L1526.0,1890.7 L1541.0,1891.1 L1555.4,1892.0 L1569.8,1893.5 L1583.1,1895.4 L1618.4,1900.7 L1642.2,1903.8 L1664.1,1906.0 L1686.0,1907.6 L1708.9,1908.6 L1731.9,1909.0 L1754.3,1908.7 L1812.8,1907.2 L1830.3,1907.2 L1846.3,1907.4 L1866.3,1908.3 L1888.7,1909.8 L1912.7,1911.8 L1949.9,1915.4" stroke="#0072BD"/>
<path d="M1042.5,1855.2 L1045.5,1855.6 L1048.8,1856.4 L1051.8,1857.8 L1055.1,1859.7 L1059.5,1862.8 L1076.8,1876.4 L1087.4,1884.2 L1098.7,1891.8 L1109.6,1898.0 L1119.4,1902.7 L1129.0,1906.3 L1138.3,1908.9 L1147.4,1910.5 L1155.2,1911.0 L1163.7,1910.9 L1172.7,1910.2 L1195.6,1907.8 L1202.7,1907.3 L1208.7,1907.3 L1214.2,1907.6 L1219.2,1908.1 L1241.7,1911.9 L1246.6,1912.4 L1251.5,1912.5 L1262.5,1911.8 L1285.4,1909.3 L1294.3,1908.5 L1303.2,1908.1 L1311.1,1908.2 L1319.5,1909.0 L1327.9,1910.7 L1335.7,1912.9 L1353.4,1918.6 L1361.7,1920.8 L1369.0,1922.0 L1375.8,1922.3 L1380.2,1922.1 L1384.5,1921.6 L1389.3,1920.7 L1394.1,1919.6 L1403.3,1916.9 L1426.0,1909.3 L1432.3,1907.5 L1438.7,1906.1 L1445.6,1904.9 L1452.5,1904.2 L1459.3,1904.0 L1466.2,1904.2 L1473.0,1904.9 L1479.7,1906.1 L1486.4,1907.8 L1493.4,1910.0 L1500.0,1912.4 L1506.9,1915.3 L1537.0,1928.7 L1545.0,1931.9 L1552.1,1934.3 L1559.8,1936.4 L1567.6,1938.1 L1575.9,1939.6 L1585.3,1940.9 L1599.2,1942.4 L1633.7,1945.4 L1646.6,1946.2 L1657.6,1946.6 L1668.1,1946.6 L1678.0,1946.1 L1688.0,1945.1 L1716.9,1941.5 L1725.8,1940.8 L1734.8,1940.4 L1744.8,1940.5 L1755.8,1940.9 L1768.7,1941.8 L1796.1,1944.2 L1803.0,1944.5 L1809.4,1944.6 L1816.3,1944.2 L1823.2,1943.4 L1849.5,1938.6 L1860.5,1936.9 L1870.4,1936.1 L1875.4,1936.0 L1879.8,1936.2 L1885.1,1936.7 L1890.4,1937.6 L1895.2,1938.9 L1900.3,1940.7 L1905.0,1942.6 L1910.5,1945.2 L1928.7,1954.9 L1936.0,1958.5 L1943.3,1961.5 L1949.9,1963.5" stroke="#D95319" stroke-dasharray="33 30"/>
<path d="M1042.5,1855.2 L1044.6,1855.9 L1046.9,1857.1 L1049.1,1858.7 L1051.5,1860.8 L1057.8,1867.8 L1064.3,1876.4 L1070.1,1885.2 L1075.9,1895.3 L1080.8,1904.9 L1093.5,1931.0 L1097.5,1938.6 L1101.5,1945.4 L1106.5,1952.7 L1111.8,1959.2 L1117.2,1964.9 L1123.0,1969.7 L1127.1,1972.4 L1131.4,1974.7 L1135.4,1976.2 L1139.7,1977.2 L1142.5,1977.4 L1145.5,1977.4 L1163.8,1975.0 L1170.0,1974.7 L1175.6,1974.7 L1181.6,1975.3 L1186.8,1976.2 L1191.9,1977.7 L1197.2,1979.8 L1201.4,1981.9 L1205.5,1984.3 L1209.8,1987.3 L1214.5,1990.9 L1222.4,1997.8 L1239.1,2013.7 L1247.5,2021.4 L1257.1,2029.2 L1266.6,2036.1 L1271.7,2039.4 L1276.9,2042.4 L1282.2,2045.1 L1287.1,2047.4 L1292.2,2049.3 L1296.8,2050.8 L1302.0,2052.2 L1306.8,2053.2 L1314.2,2054.1 L1321.6,2054.4 L1329.0,2054.0 L1336.4,2053.0 L1343.6,2051.4 L1350.7,2049.1 L1357.5,2046.2 L1363.5,2042.9 L1368.1,2040.0 L1372.0,2037.0 L1375.7,2033.7 L1379.5,2029.8 L1386.0,2022.2 L1401.2,2002.6 L1405.6,1997.5 L1410.0,1993.0 L1414.7,1988.9 L1419.6,1985.2 L1424.2,1982.4 L1429.1,1980.1 L1433.2,1978.7 L1437.4,1977.7 L1441.8,1977.1 L1446.6,1976.8 L1456.1,1976.9 L1478.3,1978.3 L1484.3,1978.4 L1489.2,1978.1 L1494.0,1977.4 L1499.2,1976.2 L1504.2,1974.5 L1509.1,1972.4 L1513.4,1970.0 L1517.9,1967.1 L1522.3,1963.8 L1526.4,1960.1 L1529.7,1956.8 L1532.7,1953.3 L1542.2,1941.5 L1545.8,1937.2 L1549.7,1933.2 L1553.1,1930.3 L1557.6,1927.3 L1562.0,1925.1 L1567.1,1923.5 L1571.9,1922.8 L1575.3,1922.8 L1578.1,1923.1 L1581.0,1923.8 L1584.2,1925.0 L1587.4,1926.5 L1590.5,1928.4 L1593.8,1930.7 L1597.3,1933.6 L1601.9,1938.0 L1606.5,1943.2 L1610.8,1948.7 L1620.7,1962.0 L1626.6,1969.7 L1632.8,1977.2 L1639.0,1984.0 L1645.8,1990.8 L1652.7,1996.6 L1659.4,2001.6 L1666.1,2005.6 L1670.8,2008.0 L1675.8,2010.1 L1680.8,2011.8 L1686.1,2013.1 L1696.4,2014.8 L1715.6,2016.7 L1723.2,2017.7 L1730.5,2019.0 L1737.2,2020.9 L1744.2,2023.4 L1751.9,2026.7 L1776.0,2038.8 L1785.0,2043.0 L1794.3,2046.5 L1803.4,2049.0 L1812.7,2050.8 L1822.3,2051.9 L1832.9,2052.4 L1844.1,2052.4 L1855.7,2051.7 L1866.7,2050.5 L1877.4,2048.7 L1887.5,2046.4 L1896.9,2043.5 L1905.6,2040.3 L1914.1,2036.5 L1921.9,2032.3 L1929.5,2027.5 L1936.7,2022.1 L1943.4,2016.5 L1949.9,2010.0" stroke="#000000" stroke-dasharray="8.3 7.5"/>
<path d="M1042.5,1855.2 L1045.8,1856.4 L1048.6,1858.1 L1051.3,1860.7 L1054.0,1864.1 L1057.9,1870.2 L1061.5,1876.7 L1064.9,1883.8 L1068.1,1891.6 L1072.5,1904.5 L1076.6,1918.7 L1080.0,1933.1 L1089.4,1975.5 L1092.6,1988.4 L1096.0,2000.2 L1100.7,2013.9 L1105.8,2026.7 L1111.7,2039.2 L1114.0,2043.3 L1116.5,2047.3 L1120.2,2051.9 L1122.2,2053.8 L1124.0,2055.3 L1126.2,2056.7 L1128.2,2057.6 L1130.3,2058.3 L1132.6,2058.6 L1136.8,2058.7 L1141.8,2057.9 L1146.6,2056.8 L1158.4,2053.6 L1164.7,2052.4 L1167.7,2052.1 L1170.1,2052.1 L1172.4,2052.3 L1174.6,2052.9 L1177.0,2053.9 L1179.2,2055.2 L1181.2,2056.9 L1183.1,2058.8 L1185.2,2061.4 L1187.1,2064.2 L1191.3,2071.6 L1196.9,2083.1 L1202.2,2095.6 L1207.2,2108.8 L1211.8,2122.5 L1215.6,2135.0 L1219.5,2149.0 L1231.5,2195.5 L1236.4,2213.3 L1241.6,2231.0 L1246.8,2246.7 L1253.0,2263.1 L1259.5,2278.3 L1266.1,2291.5 L1268.8,2296.3 L1271.8,2300.8 L1276.0,2306.2 L1280.4,2310.6 L1284.9,2314.1 L1290.4,2317.1 L1296.0,2319.4 L1302.8,2321.5 L1310.5,2323.3 L1332.1,2327.6 L1338.3,2329.3 L1344.2,2331.4 L1350.2,2334.0 L1356.4,2337.3 L1376.9,2349.5 L1384.9,2354.0 L1392.3,2357.6 L1399.2,2360.5 L1406.1,2362.5 L1409.5,2363.1 L1412.8,2363.5 L1416.0,2363.5 L1418.7,2363.2 L1421.3,2362.7 L1423.8,2361.9 L1426.2,2360.8 L1428.9,2359.3 L1431.5,2357.4 L1434.0,2355.2 L1436.5,2352.8 L1439.1,2349.8 L1444.0,2343.2 L1449.4,2334.7 L1456.0,2322.8 L1462.0,2311.0 L1467.7,2298.8 L1472.3,2287.9 L1477.2,2275.6 L1494.9,2228.4 L1498.6,2219.4 L1502.4,2211.1 L1506.7,2202.5 L1511.2,2194.7 L1515.6,2188.2 L1519.8,2182.8 L1523.7,2178.6 L1528.0,2174.8 L1532.7,2171.5 L1537.4,2168.9 L1541.0,2167.4 L1545.4,2165.9 L1559.2,2162.5 L1564.2,2161.1 L1568.4,2159.5 L1571.9,2157.7 L1575.9,2155.1 L1579.6,2151.9 L1583.2,2148.0 L1586.5,2143.7 L1591.1,2136.5 L1596.0,2126.9 L1605.9,2105.7 L1612.8,2089.7 L1616.5,2080.1 L1619.6,2071.2 L1628.6,2041.5 L1632.0,2031.0 L1635.7,2021.1 L1639.7,2012.3 L1642.7,2006.5 L1645.9,2001.2 L1649.4,1996.1 L1652.6,1992.1 L1655.7,1988.8 L1659.0,1986.0 L1662.1,1984.0 L1665.4,1982.5 L1668.5,1981.8 L1671.2,1981.6 L1674.0,1981.7 L1677.4,1982.3 L1680.7,1983.3 L1684.0,1984.7 L1687.2,1986.4 L1690.7,1988.7 L1695.0,1992.3 L1699.3,1997.1 L1702.9,2001.9 L1714.0,2018.0 L1718.0,2023.0 L1721.6,2026.8 L1725.7,2030.5 L1730.1,2033.3 L1734.4,2035.1 L1738.8,2036.2 L1743.9,2036.4 L1746.7,2036.1 L1749.5,2035.6 L1752.3,2034.7 L1755.0,2033.7 L1757.6,2032.4 L1760.1,2030.8 L1763.7,2028.0 L1767.1,2024.8 L1770.2,2021.2 L1777.9,2011.6 L1781.8,2007.4 L1786.0,2003.9 L1788.0,2002.6 L1790.2,2001.6 L1792.9,2000.6 L1795.8,1999.9 L1798.7,1999.6 L1802.1,1999.7 L1805.5,2000.2 L1808.3,2001.0 L1811.0,2002.2 L1813.5,2003.6 L1815.8,2005.4 L1818.0,2007.5 L1820.4,2010.2 L1822.6,2013.0 L1828.2,2021.7 L1833.5,2031.3 L1837.7,2040.1 L1841.8,2050.0 L1845.8,2060.7 L1857.2,2092.2 L1861.0,2101.8 L1864.6,2110.2 L1869.0,2119.3 L1873.6,2127.7 L1878.4,2135.2 L1883.3,2141.9 L1886.4,2145.6 L1889.7,2149.2 L1893.2,2152.6 L1896.9,2155.8 L1900.8,2158.8 L1904.8,2161.6 L1909.1,2164.2 L1913.0,2166.3 L1917.5,2168.4 L1922.2,2170.3 L1926.9,2171.9 L1931.3,2173.1 L1936.2,2174.2 L1940.7,2174.9 L1945.3,2175.4 L1949.9,2175.6" stroke="#7E2F8E" stroke-dasharray="33 7 16 7"/>
</g>
<g style="font-family:'Liberation Mono',monospace;font-size:52.5px" fill="#262626">
<text x="289.0" y="1522.3" text-anchor="middle">0</text>
<text x="629.7" y="1522.3" text-anchor="middle">2</text>
<text x="970.4" y="1522.3" text-anchor="middle">4</text>
<text x="1311.1" y="1522.3" text-anchor="middle">6</text>
<text x="1651.8" y="1522.3" text-anchor="middle">8</text>
<text x="1993.7" y="1522.3" text-anchor="middle">10</text>
<text x="289.0" y="3178.2" text-anchor="middle">0</text>
<text x="629.7" y="3178.2" text-anchor="middle">2</text>
<text x="970.4" y="3178.2" text-anchor="middle">4</text>
<text x="1311.1" y="3178.2" text-anchor="middle">6</text>
<text x="1651.8" y="3178.2" text-anchor="middle">8</text>
<text x="1993.7" y="3178.2" text-anchor="middle">10</text>
<text x="944.6" y="740.6" text-anchor="middle">0</text>
<text x="1137.9" y="740.6" text-anchor="middle">2</text>
<text x="1331.2" y="740.6" text-anchor="middle">4</text>
<text x="1524.4" y="740.6" text-anchor="middle">6</text>
<text x="1717.7" y="740.6" text-anchor="middle">8</text>
<text x="1912.2" y="740.6" text-anchor="middle">10</text>
<text x="1042.5" y="2436.9" text-anchor="middle">0</text>
<text x="1224.0" y="2436.9" text-anchor="middle">2</text>
<text x="1405.5" y="2436.9" text-anchor="middle">4</text>
<text x="1587.0" y="2436.9" text-anchor="middle">6</text>
<text x="1768.5" y="2436.9" text-anchor="middle">8</text>
<text x="1951.2" y="2436.9" text-anchor="middle">10</text>
<text x="123.3" y="1469.8">−0.04</text>
<text x="123.3" y="1229.1">−0.02</text>
<text x="237.0" y="988.9">0</text>
<text x="150.6" y="748.7">0.02</text>
<text x="150.6" y="508.5">0.04</text>
<text x="150.6" y="268.3">0.06</text>
<text x="123.2" y="1780.0">0.005</text>
<text x="237.5" y="2004.3">0</text>
<text x="91.7" y="2228.6">−0.005</text>
<text x="123.2" y="2452.9">−0.01</text>
<text x="91.7" y="2677.2">−0.015</text>
<text x="123.2" y="2901.5">−0.02</text>
<text x="91.7" y="3125.7">−0.025</text>
<text x="892.3" y="688.5">0</text>
<text x="833.8" y="571.8">0.1</text>
<text x="833.8" y="455.0">0.2</text>
<text x="833.8" y="338.2">0.3</text>
<text x="833.8" y="221.5">0.4</text>
<text x="904.5" y="1827.4">0.12</text>
<text x="931.5" y="1966.6">0.1</text>
<text x="904.5" y="2105.8">0.08</text>
<text x="904.5" y="2245.0">0.06</text>
<text x="904.5" y="2384.3">0.04</text>
</g>
<g style="font-family:'Liberation Sans',sans-serif" fill="#262626">
<text x="1140.5" y="78" text-anchor="middle" style="font-size:57.2px">(a)</text>
<text x="1140.5" y="1733.6" text-anchor="middle" style="font-size:57.2px">(b)</text>
<text x="1137" y="1584.6" text-anchor="middle" style="font-size:57.2px;font-weight:bold;font-style:italic">t (arb. units)</text>
<text x="1143.6" y="3237.5" text-anchor="middle" style="font-size:57.2px;font-weight:bold;font-style:italic">t (arb. units)</text>
<text x="1431.7" y="802.3" text-anchor="middle" style="font-size:52px;font-weight:bold;font-style:italic">t (arb. units)</text>
<text x="1479.8" y="2506.9" text-anchor="middle" style="font-size:52px;font-weight:bold;font-style:italic">t (arb. units)</text>
<text transform="translate(115.3,776) rotate(-90)" text-anchor="middle" style="font-size:57.2px;font-weight:bold">Energy Current</text>
<text transform="translate(87.9,2432.3) rotate(-90)" text-anchor="middle" style="font-size:57.2px;font-weight:bold">Energy Current</text>
<text transform="translate(822.3,403) rotate(-90)" text-anchor="middle" style="font-size:53.3px;font-weight:bold">Coherence</text>
<text transform="translate(892.3,2085.8) rotate(-90)" text-anchor="middle" style="font-size:53.3px;font-weight:bold">Coherence</text>
</g>
<path d="M1299,1015.9H1457" stroke="#0072BD" stroke-width="11.5" fill="none"/>
<text x="1474.6" y="1029.5" style="font-family:'Liberation Sans',sans-serif;font-size:52px;font-weight:bold;font-style:italic" fill="#000">D<tspan dy="22.4" dx="0.5" style="font-size:42.5px">z</tspan><tspan dy="-22.4" dx="1.5">=0</tspan></text>
<path d="M1299,1115.3H1457" stroke="#D95319" stroke-width="11.5" fill="none" stroke-dasharray="33 30"/>
<text x="1474.6" y="1128.9" style="font-family:'Liberation Sans',sans-serif;font-size:52px;font-weight:bold;font-style:italic" fill="#000">D<tspan dy="22.4" dx="0.5" style="font-size:42.5px">z</tspan><tspan dy="-22.4" dx="1.5">=0.4</tspan></text>
<path d="M1299,1214.3H1457" stroke="#000000" stroke-width="11.5" fill="none" stroke-dasharray="8.3 7.5"/>
<text x="1474.6" y="1227.9" style="font-family:'Liberation Sans',sans-serif;font-size:52px;font-weight:bold;font-style:italic" fill="#000">D<tspan dy="22.4" dx="0.5" style="font-size:42.5px">z</tspan><tspan dy="-22.4" dx="1.5">=0.7</tspan></text>
<path d="M1299,1313.7H1457" stroke="#7E2F8E" stroke-width="11.5" fill="none" stroke-dasharray="33 7 16 7"/>
<text x="1474.6" y="1327.3" style="font-family:'Liberation Sans',sans-serif;font-size:52px;font-weight:bold;font-style:italic" fill="#000">D<tspan dy="22.4" dx="0.5" style="font-size:42.5px">z</tspan><tspan dy="-22.4" dx="1.5">=1</tspan></text>
<path d="M467.2,1879.3H625.1" stroke="#0072BD" stroke-width="11.5" fill="none"/>
<text x="642.8" y="1892.9" style="font-family:'Liberation Sans',sans-serif;font-size:52px;font-weight:bold;font-style:italic" fill="#000">D<tspan dy="22.4" dx="0.5" style="font-size:42.5px">z</tspan><tspan dy="-22.4" dx="1.5">=0</tspan></text>
<path d="M467.2,1978.6H625.1" stroke="#D95319" stroke-width="11.5" fill="none" stroke-dasharray="33 30"/>
<text x="642.8" y="1992.2" style="font-family:'Liberation Sans',sans-serif;font-size:52px;font-weight:bold;font-style:italic" fill="#000">D<tspan dy="22.4" dx="0.5" style="font-size:42.5px">z</tspan><tspan dy="-22.4" dx="1.5">=0.4</tspan></text>
<path d="M467.2,2077.9H625.1" stroke="#000000" stroke-width="11.5" fill="none" stroke-dasharray="8.3 7.5"/>
<text x="642.8" y="2091.5" style="font-family:'Liberation Sans',sans-serif;font-size:52px;font-weight:bold;font-style:italic" fill="#000">D<tspan dy="22.4" dx="0.5" style="font-size:42.5px">z</tspan><tspan dy="-22.4" dx="1.5">=0.7</tspan></text>
<path d="M467.2,2177.2H625.1" stroke="#7E2F8E" stroke-width="11.5" fill="none" stroke-dasharray="33 7 16 7"/>
<text x="642.8" y="2190.8" style="font-family:'Liberation Sans',sans-serif;font-size:52px;font-weight:bold;font-style:italic" fill="#000">D<tspan dy="22.4" dx="0.5" style="font-size:42.5px">z</tspan><tspan dy="-22.4" dx="1.5">=1</tspan></text>
</svg>
</body></html>
